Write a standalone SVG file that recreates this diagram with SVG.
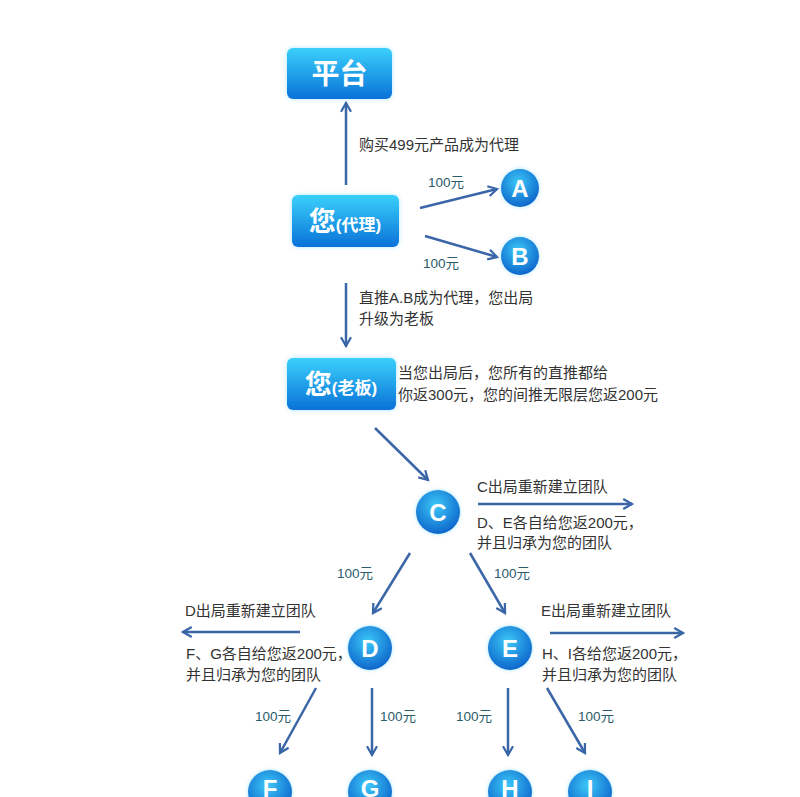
<svg xmlns="http://www.w3.org/2000/svg" width="800" height="797" viewBox="0 0 800 797">
<defs>
<linearGradient id="bg" x1="0" y1="0" x2="0" y2="1"><stop offset="0" stop-color="#3ad0fb"/><stop offset="1" stop-color="#0a72d8"/></linearGradient>
<radialGradient id="cg" cx="0.45" cy="0.35" r="0.7"><stop offset="0" stop-color="#3cc8f8"/><stop offset="1" stop-color="#0a5fc8"/></radialGradient>
<marker id="ah" viewBox="0 0 10 10" refX="8" refY="5" markerWidth="5" markerHeight="5" orient="auto"><path d="M1 1 L8 5 L1 9" fill="none" stroke="#3a66a8" stroke-width="1.8"/></marker>
<filter id="gl" x="-30%" y="-30%" width="160%" height="160%"><feGaussianBlur in="SourceAlpha" stdDeviation="3"/><feFlood flood-color="#6fd4ff" flood-opacity="0.6"/><feComposite operator="in" in2="SourceAlpha"/><feGaussianBlur stdDeviation="2"/><feMerge><feMergeNode/><feMergeNode in="SourceGraphic"/></feMerge></filter>
</defs>
<style>
.box{fill:url(#bg);filter:url(#gl)}
.cir{fill:url(#cg);filter:url(#gl)}
.bt{font-family:"Liberation Sans","Noto Sans CJK SC",sans-serif;fill:#fff;font-weight:bold;text-anchor:middle}
.t{font-family:"Liberation Sans","Noto Sans CJK SC",sans-serif;fill:#333;font-size:15px}
.m{font-family:"Liberation Sans","Noto Sans CJK SC",sans-serif;fill:#2b5c6c;font-size:13.5px}
.c{stroke:#3a66a8;stroke-width:2.5;fill:none;marker-end:url(#ah)}
</style>
<rect width="800" height="797" fill="#fff"/>
<g id="connectors">
<line class="c" x1="346" y1="185" x2="346" y2="103"/>
<line class="c" x1="420" y1="208" x2="497" y2="189"/>
<line class="c" x1="425" y1="236" x2="497" y2="257"/>
<line class="c" x1="346" y1="283" x2="346" y2="346"/>
<line class="c" x1="375" y1="428" x2="428" y2="480"/>
<line class="c" x1="410" y1="553" x2="373" y2="613"/>
<line class="c" x1="470" y1="553" x2="505" y2="613"/>
<line class="c" x1="478" y1="504" x2="632" y2="504"/>
<line class="c" x1="300" y1="632" x2="183" y2="632"/>
<line class="c" x1="550" y1="633" x2="683" y2="633"/>
<line class="c" x1="316" y1="688" x2="280" y2="753"/>
<line class="c" x1="372" y1="688" x2="372" y2="755"/>
<line class="c" x1="508" y1="688" x2="508" y2="755"/>
<line class="c" x1="547" y1="688" x2="585" y2="753"/>
</g>
<g id="platform"><rect class="box" x="287" y="48" width="105" height="51" rx="6"/><text class="bt" x="339.5" y="84" font-size="28">平台</text></g>
<g id="agent"><rect class="box" x="292" y="195" width="107" height="52" rx="6"/><text class="bt" x="345" y="231" font-size="27">您<tspan font-size="17">(代理)</tspan></text></g>
<g id="boss"><rect class="box" x="287" y="358" width="109" height="52" rx="6"/><text class="bt" x="341" y="394" font-size="27">您<tspan font-size="17">(老板)</tspan></text></g>
<g id="nA"><circle class="cir" cx="520" cy="188" r="19"/><text class="bt" x="520" y="197" font-size="24">A</text></g>
<g id="nB"><circle class="cir" cx="520" cy="256" r="19"/><text class="bt" x="520" y="265" font-size="24">B</text></g>
<g id="nC"><circle class="cir" cx="438" cy="512" r="22"/><text class="bt" x="438" y="521" font-size="24">C</text></g>
<g id="nD"><circle class="cir" cx="370" cy="648" r="22"/><text class="bt" x="370" y="657" font-size="24">D</text></g>
<g id="nE"><circle class="cir" cx="510" cy="648" r="22"/><text class="bt" x="510" y="657" font-size="24">E</text></g>
<g id="nF"><circle class="cir" cx="270" cy="792" r="22"/><text class="bt" x="270" y="797" font-size="24">F</text></g>
<g id="nG"><circle class="cir" cx="370" cy="792" r="22"/><text class="bt" x="370" y="797" font-size="24">G</text></g>
<g id="nH"><circle class="cir" cx="510" cy="792" r="22"/><text class="bt" x="510" y="797" font-size="24">H</text></g>
<g id="nI"><circle class="cir" cx="590" cy="792" r="22"/><text class="bt" x="590" y="797" font-size="24">I</text></g>
<g id="labels">
<text class="t" x="359" y="150">购买499元产品成为代理</text>
<text class="m" x="428" y="187">100元</text>
<text class="m" x="423" y="268">100元</text>
<text class="t" x="359" y="303">直推A.B成为代理，您出局</text>
<text class="t" x="359" y="324">升级为老板</text>
<text class="t" x="398" y="378">当您出局后，您所有的直推都给</text>
<text class="t" x="398" y="400">你返300元，您的间推无限层您返200元</text>
<text class="t" x="477" y="492">C出局重新建立团队</text>
<text class="t" x="477" y="528">D、E各自给您返200元，</text>
<text class="t" x="477" y="548">并且归承为您的团队</text>
<text class="m" x="337" y="578">100元</text>
<text class="m" x="494" y="578">100元</text>
<text class="t" x="185" y="616">D出局重新建立团队</text>
<text class="t" x="186" y="659">F、G各自给您返200元，</text>
<text class="t" x="186" y="680">并且归承为您的团队</text>
<text class="t" x="541" y="616">E出局重新建立团队</text>
<text class="t" x="542" y="659">H、I各给您返200元，</text>
<text class="t" x="542" y="680">并且归承为您的团队</text>
<text class="m" x="255" y="721">100元</text>
<text class="m" x="380" y="721">100元</text>
<text class="m" x="456" y="721">100元</text>
<text class="m" x="578" y="721">100元</text>
</g>
</svg>
